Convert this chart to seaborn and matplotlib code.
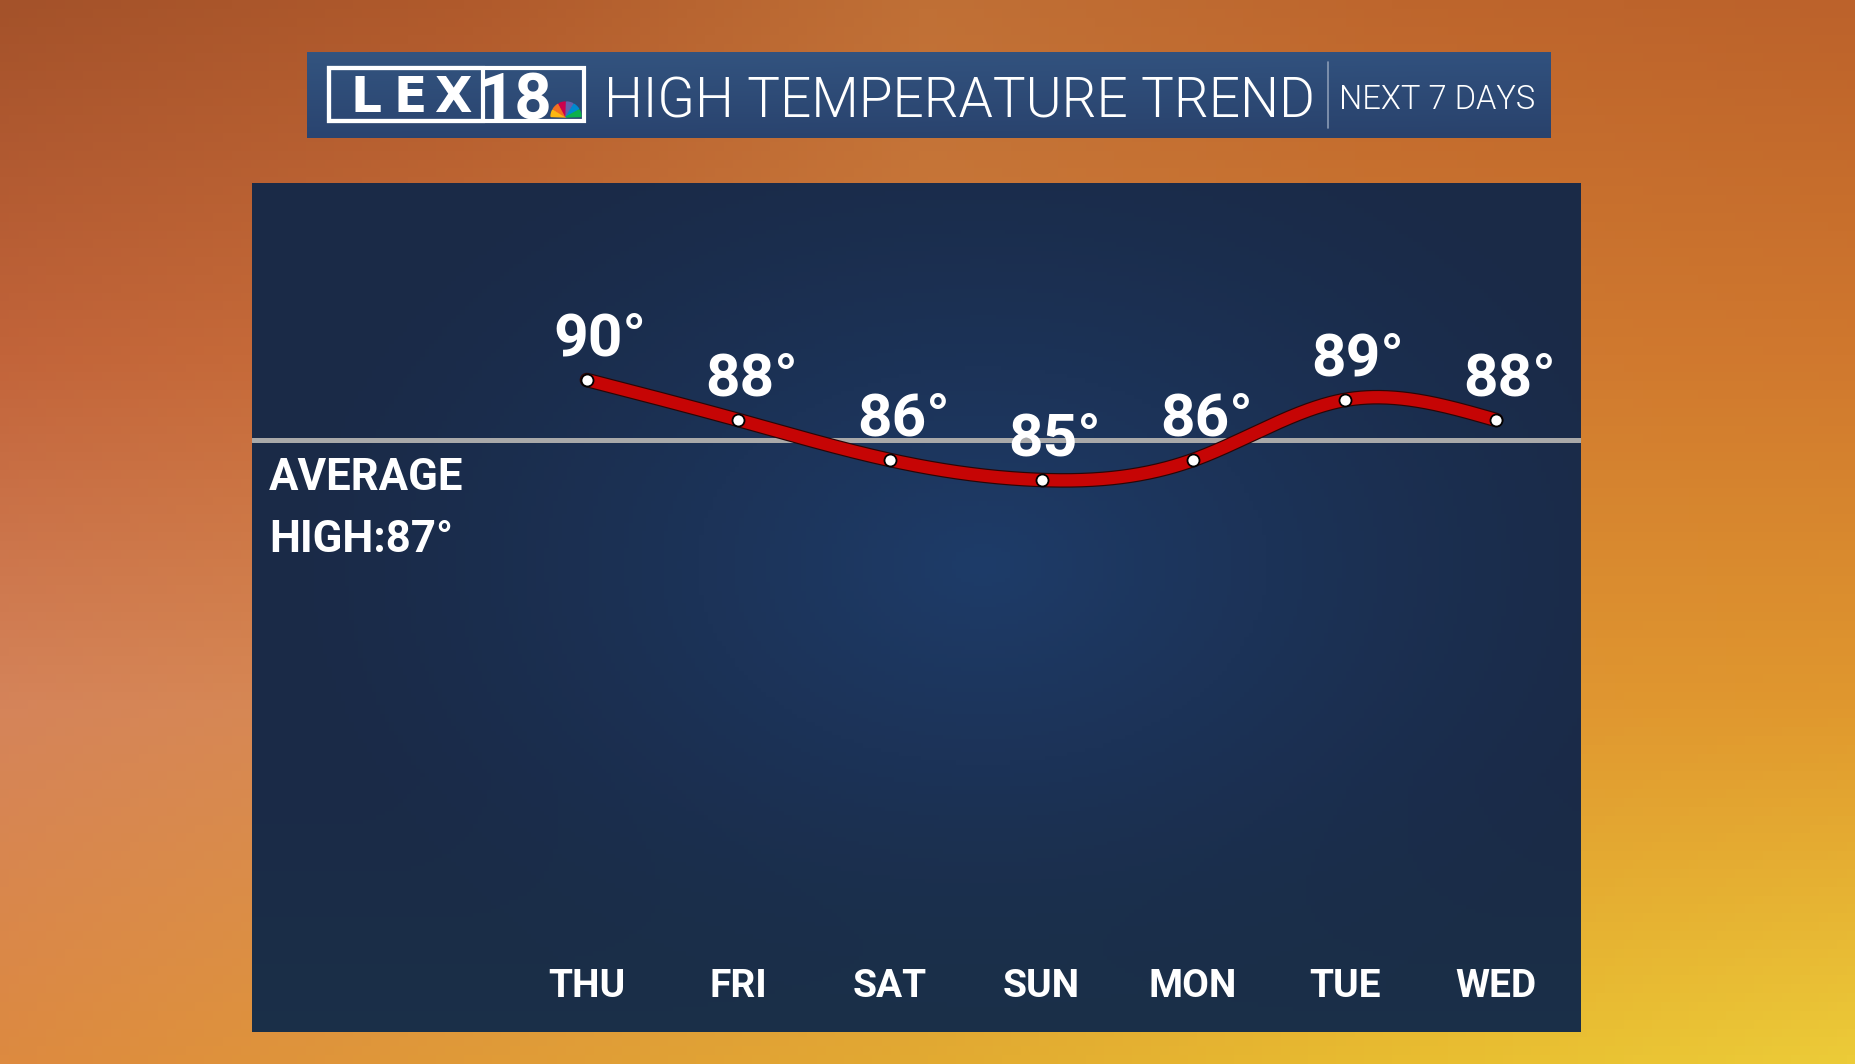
import numpy as np
import pandas as pd
import matplotlib
matplotlib.use("Agg")
import matplotlib.pyplot as plt
import seaborn as sns
from matplotlib.patches import Rectangle, Wedge
from matplotlib.lines import Line2D

# ---------------- data ----------------
days = ["THU", "FRI", "SAT", "SUN", "MON", "TUE", "WED"]
highs = [90, 88, 86, 85, 86, 89, 88]
average_high = 87
title_text = "HIGH TEMPERATURE TREND"
subtitle_text = "NEXT 7 DAYS"
avg_label_lines = ["AVERAGE", "HIGH:87°"]
logo_left = "LEX"
logo_right = "18"

# ---------------- style ----------------
sns.set_theme(style="white")
plt.rcParams["font.family"] = ["Roboto", "DejaVu Sans"]

W, H = 1856, 1064
fig = plt.figure(figsize=(W / 100, H / 100), dpi=100)


def hexrgb(h):
    h = h.lstrip("#")
    return [int(h[i:i + 2], 16) / 255 for i in (0, 2, 4)]


def grid_image(anchors, nx, ny):
    arr = np.array([[hexrgb(c) for c in row] for row in anchors])
    r, c, _ = arr.shape
    xs = np.linspace(0, c - 1, nx)
    ys = np.linspace(0, r - 1, ny)
    tmp = np.stack([np.stack([np.interp(xs, np.arange(c), arr[i, :, k]) for k in range(3)], -1)
                    for i in range(r)])
    out = np.stack([np.stack([np.interp(ys, np.arange(r), tmp[:, j, k]) for k in range(3)], -1)
                    for j in range(nx)], 1)
    return np.clip(out, 0, 1)


# background (sky)
bg = fig.add_axes([0, 0, 1, 1])
bg.set_xlim(0, W)
bg.set_ylim(H, 0)
bg.axis("off")
bg.set_zorder(0)
sky = [
    ["#a4522a", "#b05a2c", "#c07036", "#be662d", "#bc622b"],
    ["#c2643a", "#c86e38", "#cc7a3a", "#d07a30", "#d0782e"],
    ["#d5845a", "#d88a50", "#dc9040", "#e09632", "#e0982e"],
    ["#dd8a40", "#e09a38", "#e2aa32", "#e8bc30", "#eccb38"],
]
bg.imshow(grid_image(sky, 200, 120), extent=[0, W, H, 0], aspect="auto", zorder=0)

# header bar
hdr = [["#33547f", "#31517e"], ["#2a4470", "#29426c"]]
bg.imshow(grid_image(hdr, 10, 40), extent=[307, 1551, 138, 52], aspect="auto", zorder=1)
bg.text(604, 117, title_text, color="white", fontsize=39.5, fontweight=300,
        ha="left", va="baseline", zorder=3)
bg.add_line(Line2D([1328, 1328], [62, 128], color="#8a9bb5", lw=1.2, zorder=3))
bg.text(1339, 109, subtitle_text, color="white", fontsize=23.5, fontweight=300,
        ha="left", va="baseline", zorder=3)

# logo
bg.add_patch(Rectangle((329, 68), 255, 53, fill=False, ec="white", lw=3, zorder=3))
bg.add_patch(Rectangle((329, 68), 154, 53, fill=False, ec="white", lw=3, zorder=3))
for ch, cx in zip(logo_left, [366, 410, 453]):
    bg.text(cx, 112, ch, color="white", fontsize=35, fontweight="heavy",
            family=["DejaVu Sans"], ha="center", va="baseline", zorder=4)
bg.text(515, 120, logo_right, color="white", fontsize=47, fontweight="bold",
        ha="center", va="baseline", zorder=4)
peacock = ["#fcb711", "#f37021", "#cc004c", "#6460aa", "#0089d0", "#0db14b"]
for k, col in enumerate(peacock):
    a1 = 180 + 30 * k
    bg.add_patch(Wedge((566, 117), 15, a1 + 2, a1 + 28, color=col, zorder=5))

# ---------------- chart panel ----------------
x0, x1 = -2.21, 6.56
y0, y1 = 57.4, 99.85
ax = fig.add_axes([252 / W, 1 - 1032 / H, 1329 / W, 849 / H])
ax.set_zorder(1)
ax.set_xlim(x0, x1)
ax.set_ylim(y0, y1)

# panel glow
gx, gy = np.meshgrid(np.linspace(0, 1, 300), np.linspace(0, 1, 200))
d = np.sqrt(((gx - 0.55) / 0.55) ** 2 + ((gy - 0.45) / 0.6) ** 2)
t = np.clip(1 - d, 0, 1) ** 1.4
outer = np.array(hexrgb("#1a2a47"))
inner = np.array(hexrgb("#1e3c69"))
img = outer[None, None, :] * (1 - t[..., None]) + inner[None, None, :] * t[..., None]
teal = np.array(hexrgb("#1b3349"))
w = np.clip((gy - 0.7) / 0.3, 0, 1)[..., None] * 0.6
img = img * (1 - w) + teal * w
ax.imshow(img, extent=[x0, x1, y0, y1], aspect="auto", zorder=0, origin="upper")

for s in ax.spines.values():
    s.set_visible(False)
ax.set_xticks([])
ax.set_yticks([])

# average line
ax.axhline(average_high, color="#a9a9a9", lw=3.6, zorder=2)

# smooth curve (natural cubic spline through the daily highs)
xi = np.arange(len(highs), dtype=float)
yi = np.array(highs, dtype=float)
n = len(xi)
hh = np.diff(xi)
A = np.zeros((n, n))
b = np.zeros(n)
A[0, 0] = A[-1, -1] = 1
for i in range(1, n - 1):
    A[i, i - 1] = hh[i - 1]
    A[i, i] = 2 * (hh[i - 1] + hh[i])
    A[i, i + 1] = hh[i]
    b[i] = 3 * ((yi[i + 1] - yi[i]) / hh[i] - (yi[i] - yi[i - 1]) / hh[i - 1])
c = np.linalg.solve(A, b)
bc = (yi[1:] - yi[:-1]) / hh - hh * (2 * c[:-1] + c[1:]) / 3
dc = (c[1:] - c[:-1]) / (3 * hh)
xs = np.linspace(0, n - 1, 600)
seg = np.clip(np.floor(xs).astype(int), 0, n - 2)
dx = xs - xi[seg]
ys = yi[seg] + bc[seg] * dx + c[seg] * dx ** 2 + dc[seg] * dx ** 3
curve = pd.DataFrame({"x": xs, "y": ys})

sns.lineplot(data=curve, x="x", y="y", ax=ax, color="#2a0606", lw=10.5, sort=False, zorder=3,
             solid_capstyle="round")
sns.lineplot(data=curve, x="x", y="y", ax=ax, color="#c60505", lw=8.8, sort=False, zorder=4,
             solid_capstyle="round")

pts = pd.DataFrame({"day": xi, "high": yi})
sns.scatterplot(data=pts, x="day", y="high", ax=ax, s=75, color="white", edgecolor="black",
                linewidth=1.3, zorder=6)
ax.set_xlabel("")
ax.set_ylabel("")

for i, v in enumerate(highs):
    ax.annotate(f"{v}°", (i, v), xytext=(9.5, 18), textcoords="offset points",
                ha="center", va="baseline", fontsize=43.5, fontweight="bold", color="white",
                zorder=7)

for i, dname in enumerate(days):
    ax.text(i, 59.15, dname, ha="center", va="baseline", fontsize=28, fontweight="bold",
            color="white", zorder=7)

# average label (overlay above the panel)
top = fig.add_axes([0, 0, 1, 1])
top.set_xlim(0, W)
top.set_ylim(H, 0)
top.axis("off")
top.set_zorder(2)
top.patch.set_alpha(0)
top.text(269, 490, avg_label_lines[0], color="white", fontsize=31.5, fontweight="bold",
         ha="left", va="baseline")
top.text(269, 552, avg_label_lines[1], color="white", fontsize=31.5, fontweight="bold",
         ha="left", va="baseline")

fig.savefig("out.png", dpi=100)
